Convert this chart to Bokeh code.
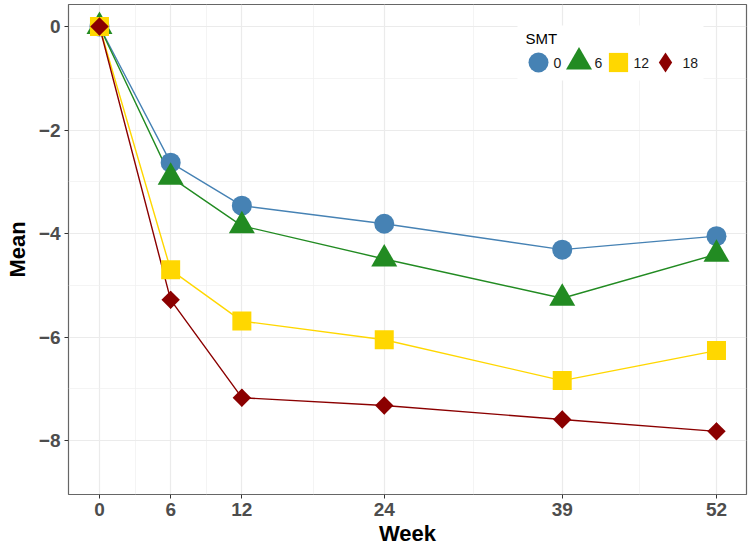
from bokeh.plotting import figure
from bokeh.models import (Range1d, FixedTicker, CustomJSTickFormatter, Legend,
                          LegendItem, ColumnDataSource, BoxAnnotation, Label)
from bokeh.core.properties import value
from bokeh.embed import file_html
from bokeh.resources import INLINE
import math

# ---- data ----
weeks = [0, 6, 12, 24, 39, 52]
smt_levels = ["0", "6", "12", "18"]
mean_smt0 = [0, -2.63, -3.46, -3.81, -4.31, -4.05]
mean_smt6 = [0, -2.91, -3.85, -4.49, -5.25, -4.40]
mean_smt12 = [0, -4.70, -5.69, -6.05, -6.84, -6.26]
mean_smt18 = [0, -5.28, -7.17, -7.32, -7.59, -7.82]
x_ticks = [0, 6, 12, 24, 39, 52]
x_minor = [3, 9, 18, 31.5, 45.5]
y_ticks = [-8, -6, -4, -2, 0]
y_minor = [-7, -5, -3, -1]

series = [mean_smt0, mean_smt6, mean_smt12, mean_smt18]
colors = ["#4682B4", "#228B22", "#FFD700", "#8B0000"]
markers = ["circle", "triangle", "square", "square"]
sizes = [20, 26, 19, 13]
angles = [0, 0, 0, math.pi / 4]

FONT = "Liberation Sans"

p = figure(width=750, height=549, output_backend="svg", toolbar_location=None,
           x_range=Range1d(-2.61, 54.53), y_range=Range1d(-9.04, 0.425),
           min_border_left=68, min_border_right=4, min_border_top=4,
           min_border_bottom=55, background_fill_color="white",
           border_fill_color="white")

p.outline_line_color = "#666666"
p.outline_line_width = 1.2

# axes
for ax in (p.xaxis[0], p.yaxis[0]):
    ax.axis_line_color = None
    ax.major_tick_line_color = "#333333"
    ax.major_tick_out = 4
    ax.major_tick_in = 0
    ax.minor_tick_out = 0
    ax.minor_tick_in = 0
    ax.major_label_text_font = FONT
    ax.major_label_text_font_style = "bold"
    ax.major_label_text_font_size = "19px"
    ax.major_label_text_color = "#4D4D4D"
    ax.axis_label_text_font = FONT
    ax.axis_label_text_font_style = "bold"
    ax.axis_label_text_font_size = "22px"
    ax.axis_label_text_color = "black"

p.xaxis.ticker = FixedTicker(ticks=x_ticks, minor_ticks=x_minor)
p.yaxis.ticker = FixedTicker(ticks=y_ticks, minor_ticks=y_minor)
p.yaxis.formatter = CustomJSTickFormatter(
    code="return tick < 0 ? '\\u2212' + (-tick) : '' + tick;")
p.xaxis.axis_label = "Week"
p.yaxis.axis_label = "Mean"
p.xaxis.major_label_standoff = 4
p.xaxis.axis_label_standoff = 2
p.yaxis.major_label_standoff = 4
p.yaxis.axis_label_standoff = 6

for g in (p.xgrid[0], p.ygrid[0]):
    g.grid_line_color = "#EBEBEB"
    g.grid_line_width = 1.2
    g.minor_grid_line_color = "#EFEFEF"
    g.minor_grid_line_width = 0.7

# lines first, then points (ggplot order)
for vals, col in zip(series, colors):
    src = ColumnDataSource(dict(week=weeks, mean=vals))
    p.line("week", "mean", source=src, line_color=col, line_width=1.4)

point_renderers = []
for i, (vals, col, mk, sz, ang) in enumerate(
        zip(series, colors, markers, sizes, angles)):
    src = ColumnDataSource(dict(week=weeks, mean=vals))
    if i == 3:
        # diamond key glyph (fully covered by the rotated square drawn next)
        dia = p.scatter("week", "mean", source=src, marker="diamond", size=18,
                        fill_color=col, line_color=None)
    r = p.scatter("week", "mean", source=src, marker=mk, size=sz, angle=ang,
                  fill_color=col, line_color=None)
    point_renderers.append(r)

legend_renderers = point_renderers[:3] + [dia]

# legend: white panel, title, keys and labels (screen px, frame-relative)
p.add_layout(BoxAnnotation(left=449, right=635, bottom=414, top=469,
                           left_units="screen", right_units="screen",
                           bottom_units="screen", top_units="screen",
                           fill_color="white", fill_alpha=1.0,
                           line_color=None, level="annotation"))
p.add_layout(Label(x=457, y=456, x_units="screen", y_units="screen",
                   text="SMT", text_font=FONT, text_font_size="15px",
                   text_color="black", text_baseline="alphabetic"))

key_box = [50, 65, 48, 50]
key_center_x = [470, 510.7, 550, 597]
label_x = [485, 526, 565, 614]
row_y = 432
for lab, r, w, cx, lx in zip(smt_levels, legend_renderers, key_box,
                             key_center_x, label_x):
    lg = Legend(items=[LegendItem(label=value(""), renderers=[r])],
                orientation="horizontal",
                location=(int(round(cx - w / 2)), int(round(row_y - w / 2))),
                glyph_width=w, glyph_height=w, label_standoff=0,
                label_width=0, label_height=0, spacing=0, padding=0,
                margin=0, border_line_color=None, background_fill_alpha=0.0)
    p.add_layout(lg)
    p.add_layout(Label(x=lx, y=row_y, x_units="screen", y_units="screen",
                       text=lab, text_font=FONT, text_font_size="14px",
                       text_color="#1A1A1A", text_baseline="middle",
                       text_align="left"))

open("out.html", "w").write(file_html(p, INLINE))
